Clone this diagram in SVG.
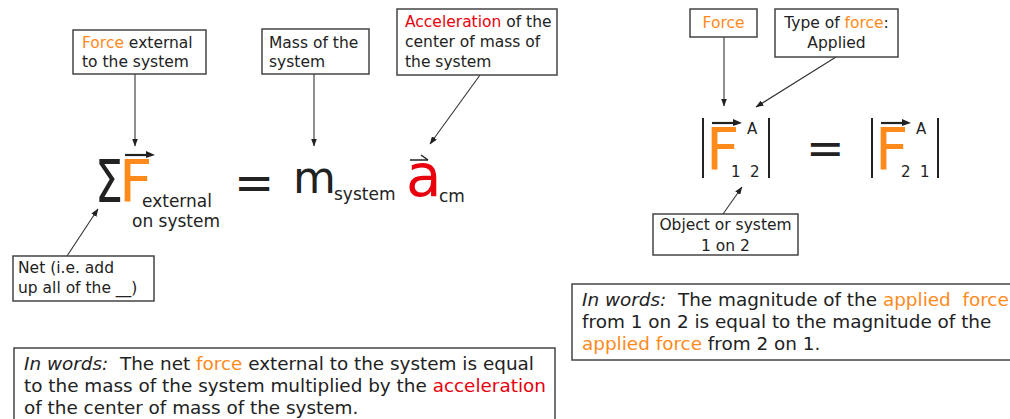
<svg xmlns="http://www.w3.org/2000/svg" width="1010" height="419" viewBox="0 0 1010 419">
<style>
text{font-family:"DejaVu Sans","Verdana",sans-serif;fill:#222;white-space:pre}
.box{fill:#fff;stroke:#444;stroke-width:1.5}
.lbl{font-size:15.5px}
.sub{font-size:17px}
.big{font-size:58px}
.para{font-size:18.4px}
.o{fill:#ff8a1c}
.r{fill:#e8000c}
.c{stroke:#333;stroke-width:1.1;fill:none;marker-end:url(#ah)}
.bar{stroke:#222;stroke-width:2}
.vec{stroke:#222;stroke-width:2.2}
</style>
<defs>
<marker id="ah" markerWidth="8" markerHeight="6" refX="7.5" refY="3" orient="auto" markerUnits="userSpaceOnUse">
<path d="M0,0 L8,3 L0,6 Z" fill="#222"/>
</marker>
</defs>
<rect width="1010" height="419" fill="#fff"/>

<g id="connectors">
<line class="c" x1="135" y1="74" x2="135" y2="146"/>
<line class="c" x1="314" y1="74" x2="314" y2="146"/>
<line class="c" x1="480" y1="75" x2="430" y2="144"/>
<line class="c" x1="67" y1="256" x2="98" y2="209"/>
<line class="c" x1="724" y1="37" x2="724" y2="106"/>
<line class="c" x1="836" y1="57" x2="756" y2="107"/>
<line class="c" x1="723" y1="214" x2="742" y2="187"/>
</g>

<g id="box-force-external">
<rect class="box" x="73" y="30" width="133" height="44"/>
<text class="lbl" x="82" y="48"><tspan class="o">Force</tspan> external</text>
<text class="lbl" x="82" y="67">to the system</text>
</g>

<g id="box-mass">
<rect class="box" x="262" y="29" width="107" height="45"/>
<text class="lbl" x="269" y="48">Mass of the</text>
<text class="lbl" x="269" y="67">system</text>
</g>

<g id="box-acceleration">
<rect class="box" x="397" y="9" width="160" height="66"/>
<text class="lbl" x="405" y="27"><tspan class="r">Acceleration</tspan> of the</text>
<text class="lbl" x="405" y="47">center of mass of</text>
<text class="lbl" x="405" y="67">the system</text>
</g>

<g id="box-net">
<rect class="box" x="13" y="256" width="141" height="45"/>
<text class="lbl" x="18" y="273">Net (i.e. add</text>
<text class="lbl" x="18" y="293">up all of the __)</text>
</g>

<g id="equation-left">
<text class="big" x="95" y="202" textLength="28" lengthAdjust="spacingAndGlyphs">Σ</text>
<text class="big o" x="119" y="202">F</text>
<line class="vec" x1="125" y1="155" x2="148" y2="155"/>
<path d="M146,151 L155,155 L146,158 Z" fill="#222"/>
<text class="sub" x="142" y="207">external</text>
<text class="sub" x="132" y="227">on system</text>
<text style="font-size:48px" x="234" y="199">=</text>
<text style="font-size:44px" x="293" y="193">m</text>
<text class="sub" x="334" y="200">system</text>
<text class="big r" x="406" y="196">a</text>
<line x1="410" y1="160" x2="428" y2="160" stroke="#222" stroke-width="1.5"/>
<line x1="421" y1="155" x2="428" y2="160" stroke="#222" stroke-width="1.5"/>
<text class="sub" x="439" y="202">cm</text>
</g>

<g id="box-force-right">
<rect class="box" x="690" y="9" width="67" height="28"/>
<text class="lbl o" x="723.5" y="28" text-anchor="middle">Force</text>
</g>

<g id="box-type">
<rect class="box" x="775" y="9" width="123" height="48"/>
<text class="lbl" x="836.5" y="28" text-anchor="middle">Type of <tspan class="o">force</tspan>:</text>
<text class="lbl" x="836.5" y="48" text-anchor="middle">Applied</text>
</g>

<g id="box-object">
<rect class="box" x="653" y="214" width="145" height="41"/>
<text class="lbl" x="725.5" y="230" text-anchor="middle">Object or system</text>
<text class="lbl" x="725.5" y="251" text-anchor="middle">1 on 2</text>
</g>

<g id="equation-right">
<line class="bar" x1="703" y1="118" x2="703" y2="178"/>
<text class="big o" x="706" y="170">F</text>
<line class="vec" x1="712" y1="123" x2="735" y2="123"/>
<path d="M733,119 L742,123 L733,126 Z" fill="#222"/>
<text style="font-size:15px" x="747" y="134">A</text>
<text style="font-size:15px" x="731" y="177">1  2</text>
<line class="bar" x1="769" y1="118" x2="769" y2="178"/>
<text style="font-size:46px" x="806" y="164">=</text>
<line class="bar" x1="872" y1="118" x2="872" y2="178"/>
<text class="big o" x="875" y="170">F</text>
<line class="vec" x1="881" y1="123" x2="904" y2="123"/>
<path d="M902,119 L911,123 L902,126 Z" fill="#222"/>
<text style="font-size:15px" x="916" y="134">A</text>
<text style="font-size:15px" x="901" y="177">2  1</text>
<line class="bar" x1="938" y1="118" x2="938" y2="178"/>
</g>

<g id="words-left">
<rect class="box" x="14" y="348" width="541" height="80"/>
<text class="para" x="24" y="370"><tspan font-style="italic">In words:</tspan>  The net <tspan class="o">force</tspan> external to the system is equal</text>
<text class="para" x="24" y="392">to the mass of the system multiplied by the <tspan class="r">acceleration</tspan></text>
<text class="para" x="24" y="414">of the center of mass of the system.</text>
</g>

<g id="words-right">
<rect class="box" x="572" y="284" width="445" height="76"/>
<text class="para" x="582" y="306"><tspan font-style="italic">In words:</tspan>  The magnitude of the <tspan class="o">applied  force</tspan></text>
<text class="para" x="582" y="328">from 1 on 2 is equal to the magnitude of the</text>
<text class="para" x="582" y="350"><tspan class="o">applied force</tspan> from 2 on 1.</text>
</g>
</svg>
